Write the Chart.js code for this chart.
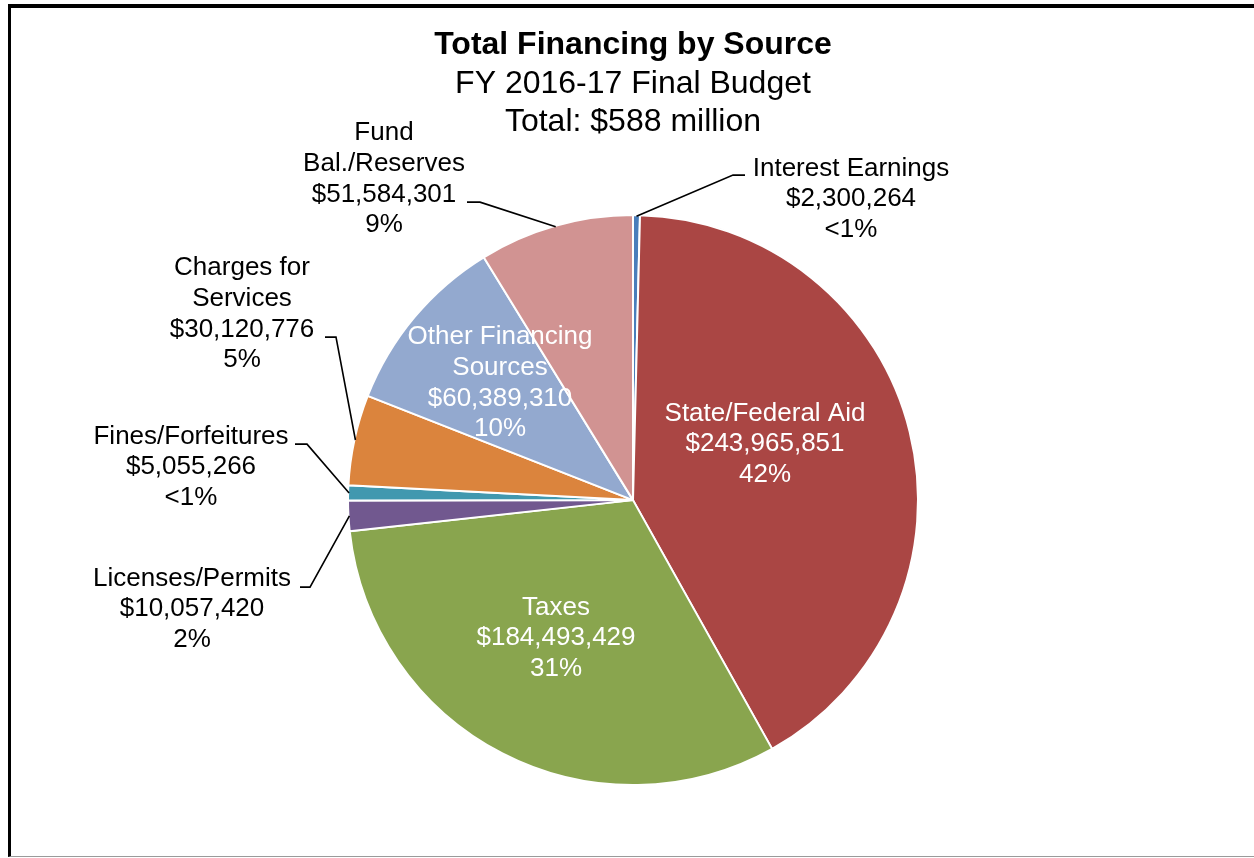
<!DOCTYPE html>
<html lang="en">
<head>
    <meta charset="UTF-8">
    <title>Total Financing by Source</title>
    <script src="https://cdn.jsdelivr.net/npm/chart.js"></script>
    <style>
        body { margin: 0; background: #fff; overflow: hidden; }
        /* frame around the chart, cut off at the right edge */
        #frame {
            position: absolute; left: 8px; top: 4px;
            width: 1300px; height: 848px;
            border-left: 3px solid #000; border-top: 4px solid #000;
            border-bottom: 1px solid #9a9a9a;
        }
        #financing { position: absolute; left: 0; top: 0; }
    </style>
</head>
<body>
    <div id="frame"></div>
    <canvas id="financing" width="1254" height="858"></canvas>

    <script>
        // FY 2016-17 financing sources, clockwise from the top
        var sources = [
            'Interest Earnings',
            'State/Federal Aid',
            'Taxes',
            'Licenses/Permits',
            'Fines/Forfeitures',
            ['Charges for', 'Services'],
            ['Other Financing', 'Sources'],
            ['Fund', 'Bal./Reserves']
        ];
        var amounts = [2300264, 243965851, 184493429, 10057420, 5055266, 30120776, 60389310, 51584301];
        var shares = ['<1%', '42%', '31%', '2%', '<1%', '5%', '10%', '9%'];

        var sliceColors = ['#4A7EBB', '#AA4644', '#89A54E', '#71588F', '#4198AF', '#DB843D', '#93A9CF', '#D19392'];

        // where each label block sits, measured from the pie centre;
        // outside labels get a leader line (elbow + short tail)
        var labelSpots = [
            { dx: 218, dy: -301, elbow: [100, -325], tail: 112 },
            { dx: 132, dy: -56, inside: true },
            { dx: -77, dy: 138, inside: true },
            { dx: -441, dy: 109, elbow: [-323, 87], tail: -333 },
            { dx: -442, dy: -33, elbow: [-326, -56], tail: -338 },
            { dx: -391, dy: -186, elbow: [-297, -163], tail: -308 },
            { dx: -133, dy: -117, inside: true },
            { dx: -249, dy: -321, elbow: [-153, -298], tail: -166 }
        ];

        var fontFamily = '"Liberation Sans", Arial, sans-serif';
        var labelFont = '26px ' + fontFamily;
        var lineGap = 30.7;

        function dollars(n) {
            return '$' + n.toLocaleString('en-US');
        }

        // draws the data labels and leader lines on top of the slices
        var calloutPlugin = {
            id: 'callouts',
            afterDatasetsDraw: function (chart) {
                var ctx = chart.ctx;
                var arcs = chart.getDatasetMeta(0).data;
                ctx.save();
                ctx.font = labelFont;
                ctx.textAlign = 'center';
                ctx.textBaseline = 'middle';
                ctx.strokeStyle = '#000';
                ctx.lineWidth = 1.6;
                arcs.forEach(function (arc, i) {
                    var p = arc.getProps(['x', 'y', 'startAngle', 'endAngle', 'outerRadius'], true);
                    var spot = labelSpots[i];
                    if (spot.elbow) {
                        var mid = (p.startAngle + p.endAngle) / 2;
                        var r = p.outerRadius - 1;
                        ctx.beginPath();
                        ctx.moveTo(p.x + Math.cos(mid) * r, p.y + Math.sin(mid) * r);
                        ctx.lineTo(p.x + spot.elbow[0], p.y + spot.elbow[1]);
                        ctx.lineTo(p.x + spot.tail, p.y + spot.elbow[1]);
                        ctx.stroke();
                    }
                    var lines = [].concat(sources[i], dollars(amounts[i]), shares[i]);
                    var cx = p.x + spot.dx;
                    var cy = p.y + spot.dy;
                    ctx.fillStyle = spot.inside ? '#fff' : '#000';
                    lines.forEach(function (t, k) {
                        ctx.fillText(t, cx, cy + (k - (lines.length - 1) / 2) * lineGap);
                    });
                });
                ctx.restore();
            }
        };

        var ctx = document.getElementById('financing').getContext('2d');
        var financingChart = new Chart(ctx, {
            type: 'pie',
            data: {
                labels: sources,
                datasets: [{
                    data: amounts,
                    backgroundColor: sliceColors,
                    borderColor: '#fff',
                    borderWidth: 2
                }]
            },
            options: {
                responsive: false,
                animation: false,
                devicePixelRatio: 1,
                radius: 285,
                layout: { padding: { left: 12, right: 0, top: 0, bottom: 0 } },
                plugins: {
                    legend: { display: false },
                    tooltip: { enabled: false },
                    title: {
                        display: true,
                        text: 'Total Financing by Source',
                        color: '#000',
                        font: { family: fontFamily, size: 32, weight: 'bold', lineHeight: 1.19 },
                        padding: { top: 26, bottom: 0 }
                    },
                    subtitle: {
                        display: true,
                        text: ['FY 2016-17 Final Budget', 'Total: $588 million'],
                        color: '#000',
                        font: { family: fontFamily, size: 32, lineHeight: 1.19 },
                        padding: { top: 1, bottom: 1 }
                    }
                }
            },
            plugins: [calloutPlugin]
        });
    </script>
</body>
</html>
